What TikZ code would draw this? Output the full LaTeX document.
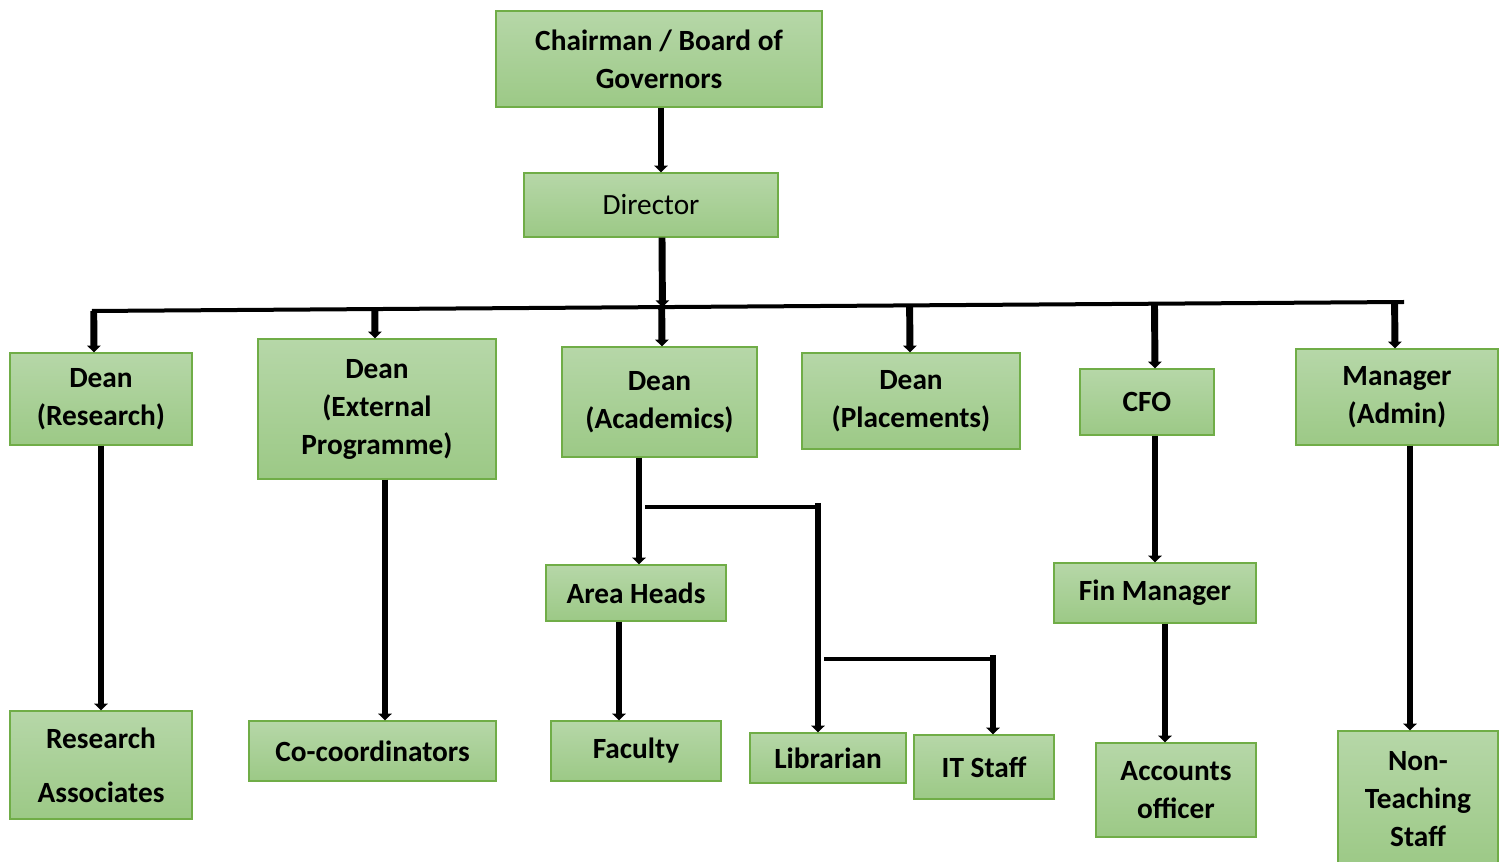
\documentclass[tikz,border=0pt]{standalone}
\usepackage{fontspec}
\setmainfont{Carlito}
\usetikzlibrary{arrows.meta, calc}

\definecolor{boxtop}{HTML}{B6D7A8}
\definecolor{boxbot}{HTML}{9CC986}
\definecolor{boxline}{HTML}{70AD47}

\begin{document}
\begin{tikzpicture}[x = 0.75pt, y = -0.75pt, > = {Triangle[width = 10pt, length = 5pt]},
	post/.style = {draw = boxline, line width = 1pt, top color = boxtop, bottom color = boxbot, inner sep = 0pt, align = center, font = \fontsize{22}{28.5}\selectfont\bfseries},
	sz/.style 2 args = {minimum width = #1*0.75pt, minimum height = #2*0.75pt},
	link/.style = {line width = 5.2pt, ->},
	bar/.style = {line width = 3pt}]

	\useasboundingbox (0, 0) rectangle (1507, 862);

	% Boxes

	\node [post, sz = {326}{96}] (chair) at (659, 59) {Chairman / Board of\\Governors};
	\node [post, sz = {254}{64}, font = \fontsize{22}{28.5}\selectfont] (dir) at (651, 205) {Director};

	\node [post, sz = {182}{92}] (dres) at (101, 399) {Dean\\(Research)};
	\node [post, sz = {238}{140}] (dext) at (377, 409) {Dean\\(External\\Programme)};
	\node [post, sz = {195}{110}] (dacad) at (659.5, 402) {Dean\\(Academics)};
	\node [post, sz = {218}{96}] (dplace) at (911, 401) {Dean\\(Placements)};
	\node [post, sz = {134}{66}] (cfo) at (1147, 402) {CFO};
	\node [post, sz = {202}{96}] (mgr) at (1397, 397) {Manager\\(Admin)};

	\node [post, sz = {180}{56}] (heads) at (636, 593) {Area Heads};
	\node [post, sz = {202}{60}] (finmgr) at (1155, 593) {Fin Manager};

	\node [post, sz = {182}{108}, font = \fontsize{22}{40.5}\selectfont\bfseries] (resa) at (101, 765) {Research\\Associates};
	\node [post, sz = {247}{60}] (cocoord) at (372.5, 751) {Co-coordinators};
	\node [post, sz = {170}{60}] (fac) at (636, 751) {Faculty};
	\node [post, sz = {156}{50}] (lib) at (828, 758) {Librarian};
	\node [post, sz = {140}{64}] (it) at (984, 767) {IT Staff};
	\node [post, sz = {160}{94}] (acc) at (1176, 790) {Accounts\\officer};
	\node [post, sz = {160}{136}] (nts) at (1418, 799) {Non-\\Teaching\\Staff};

	% Bus

	\coordinate (busL) at (92, 311);
	\coordinate (busR) at (1404, 302);
	\draw [bar] (busL) -- (busR);

	% Links

	\begin{scope}[link]

		\draw (chair.south -| 661, 0) -- (dir.north -| 661, 0);
		\draw (dir.south -| 662, 0) -- ($(busL)!(dir.south -| 662, 0)!(busR)$);

		\foreach \n/\x in {dres/94, dext/375, dacad/662, dplace/910, cfo/1155, mgr/1395}
		{
			\draw ($(busL)!(\n.north -| \x, 0)!(busR)$) -- (\n.north -| \x, 0);
		}

		\draw (dres.south) -- (resa.north);
		\draw (dext.south -| 385, 0) -- (cocoord.north -| 385, 0);
		\draw (dacad.south -| 639, 0) -- (heads.north -| 639, 0);
		\draw (heads.south -| 619, 0) -- (fac.north -| 619, 0);
		\draw (cfo.south -| 1155, 0) -- (finmgr.north -| 1155, 0);
		\draw (finmgr.south -| 1165, 0) -- (acc.north -| 1165, 0);
		\draw (mgr.south -| 1410, 0) -- (nts.north -| 1410, 0);

	\end{scope}

	% Librarian and IT Staff branch

	\coordinate (libfrom) at (645, 507);
	\coordinate (libturn) at (818, 507);
	\coordinate (itfrom) at (824, 659);
	\coordinate (itturn) at (993, 659);

	\draw [bar] (libfrom) -- (libturn);
	\draw [link] ([yshift = 3pt] libturn) -- (lib.north -| libturn);
	\draw [bar] (itfrom) -- (itturn);
	\draw [link] ([yshift = 3pt] itturn) -- (it.north -| itturn);

\end{tikzpicture}
\end{document}
